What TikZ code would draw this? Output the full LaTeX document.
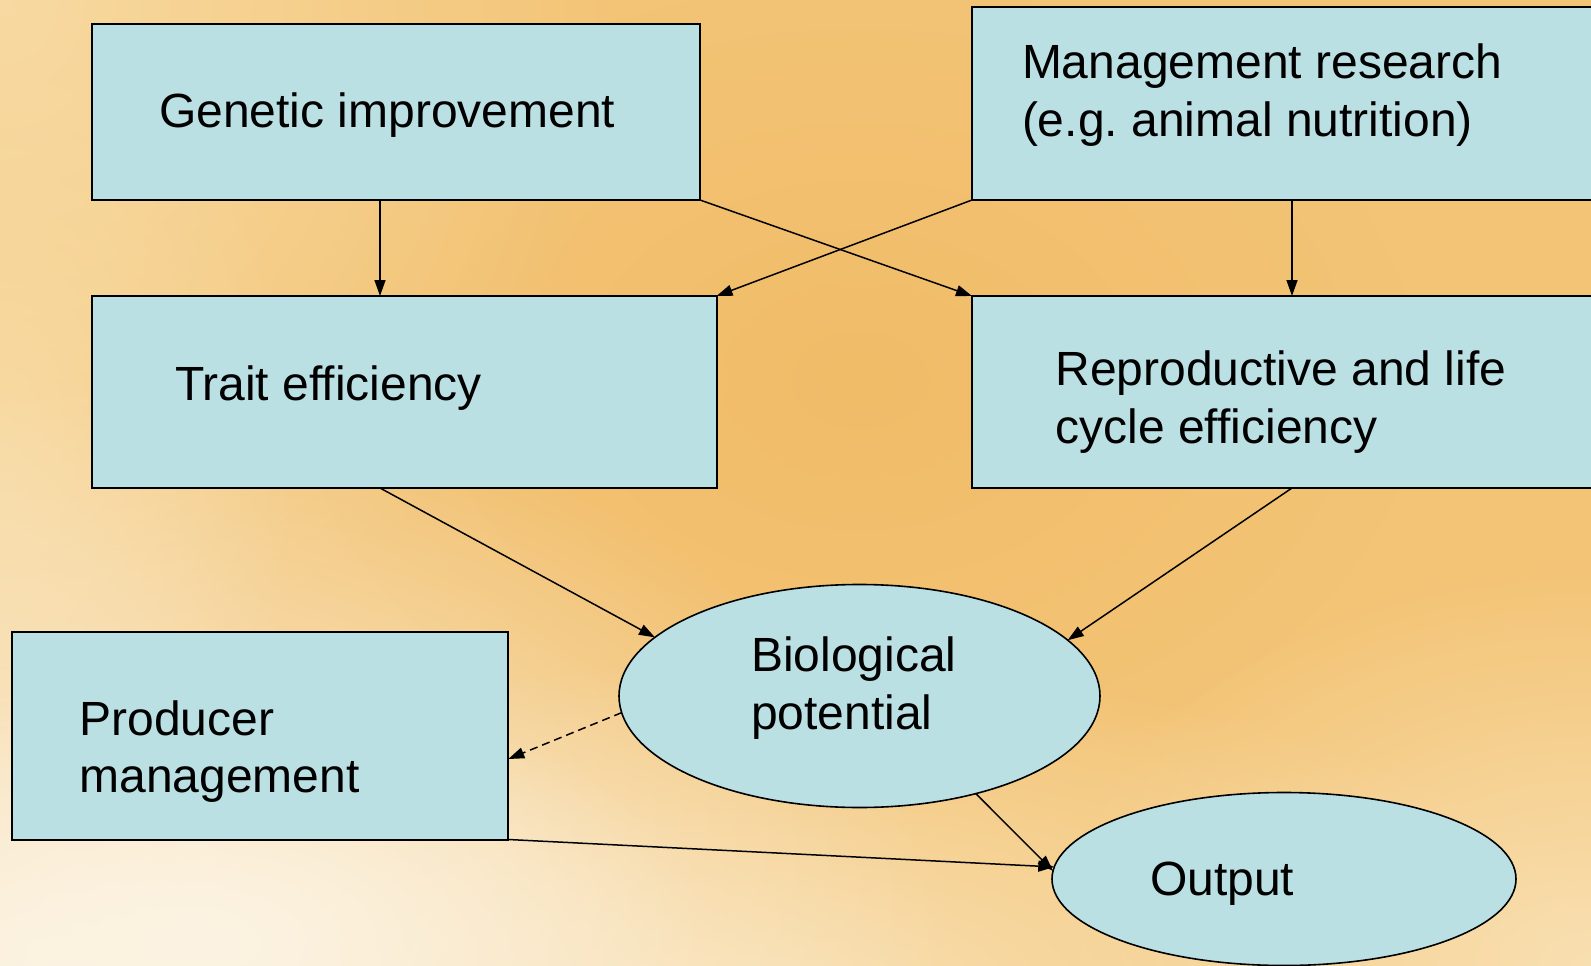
\documentclass[tikz,border=0pt]{standalone}
\usepackage{fontspec}
\setmainfont{Liberation Sans}
\usetikzlibrary{arrows.meta,shapes.geometric,calc,fadings}

\definecolor{boxfill}{RGB}{186,224,228}
\definecolor{bgorange}{RGB}{243,196,118}
\definecolor{bgdeep}{RGB}{241,188,104}
\definecolor{bgpeach}{RGB}{248,218,162}
\definecolor{bgcream}{RGB}{252,243,226}
\definecolor{bglight}{RGB}{249,224,178}

\tikzfading[name=softspot, inner color=transparent!0, outer color=transparent!100]

\begin{document}
\frenchspacing
\begin{tikzpicture}[x=1pt,y=-1pt,
  box/.style={draw=black, line width=2pt, fill=boxfill, rectangle,
              inner sep=0pt, outer sep=0pt},
  oval/.style={draw=black, line width=1.6pt, fill=boxfill, ellipse,
               inner sep=0pt, outer sep=0pt},
  lbl/.style={anchor=base west, inner sep=0pt, outer sep=0pt, align=left,
              font=\fontsize{48}{57.7}\selectfont},
  link/.style={line width=1.5pt, -{Triangle[length=16pt,width=11pt]}},
  softlink/.style={link, dash pattern=on 8pt off 5pt},
]
\useasboundingbox (0,0) rectangle (1591,966);
\clip (0,0) rectangle (1591,966);

% warm backdrop with soft light patches
\fill[bgorange] (0,0) rectangle (1591,966);
\fill[bgdeep, path fading=softspot] (860,380) ellipse [x radius=560, y radius=400];
\fill[bgpeach, path fading=softspot] (0,0) ellipse [x radius=620, y radius=700];
\fill[bgpeach, path fading=softspot] (0,450) ellipse [x radius=300, y radius=500];
\fill[bglight, path fading=softspot] (750,990) ellipse [x radius=900, y radius=330];
\fill[bgcream, path fading=softspot] (60,980) ellipse [x radius=900, y radius=600];
\fill[bgcream, path fading=softspot] (200,940) ellipse [x radius=520, y radius=260];
\fill[bglight, path fading=softspot] (1591,966) ellipse [x radius=560, y radius=400];

% boxes
\node[box, minimum width=608pt, minimum height=176pt]   (gen)   at (396,112) {};
\node[box, minimum width=648pt, minimum height=192.5pt] (mgmt)  at (1296,103.75) {};
\node[box, minimum width=624.5pt, minimum height=192pt] (trait) at (404.25,392) {};
\node[box, minimum width=648pt, minimum height=192pt]   (repro) at (1296,392) {};
\node[box, minimum width=496.8pt, minimum height=207.5pt] (prod) at (259.9,735.75) {};
\node[oval, minimum width=481pt, minimum height=223pt]   (bio)   at (859.5,696) {};
\node[oval, minimum width=464pt, minimum height=173pt]   (out)   at (1284,879) {};

% labels (two-line labels are placed by the baseline of their last line)
\node[lbl] (genT)   at (159,127.5)    {Genetic improvement};
\node[lbl] (mgmtT)  at (1022,136)     {Management research\\(e.g. animal nutrition)};
\node[lbl] (traitT) at (175,400)      {Trait efficiency};
\node[lbl] (reproT) at (1055.5,443.2) {Reproductive and life\\cycle efficiency};
\node[lbl] (bioT)   at (751,729.4)    {Biological\\potential};
\node[lbl] (prodT)  at (79.5,792.7)   {Producer\\management};
\node[lbl] (outT)   at (1150,895)     {Output};

% connectors
\draw[link] ($(gen.south west)+(288,0)$) -- ($(trait.north west)+(288,0)$);
\draw[link] ($(mgmt.south west)+(320,0)$) -- ($(repro.north west)+(320,0)$);
\draw[link] (gen.south east) -- (repro.north west);
\draw[link] (mgmt.south west) -- (trait.north east);
\draw[link] ($(trait.south west)+(288,0)$) -- (bio.164);
\draw[link] ($(repro.south west)+(320,0)$) -- (bio.15);
\draw[softlink] (bio.184) -- ($(prod.north east)+(0,127)$);
\draw[link] (bio.-40) -- (out.178);
\draw[link] (prod.south east) -- (out.177);
\end{tikzpicture}
\end{document}
